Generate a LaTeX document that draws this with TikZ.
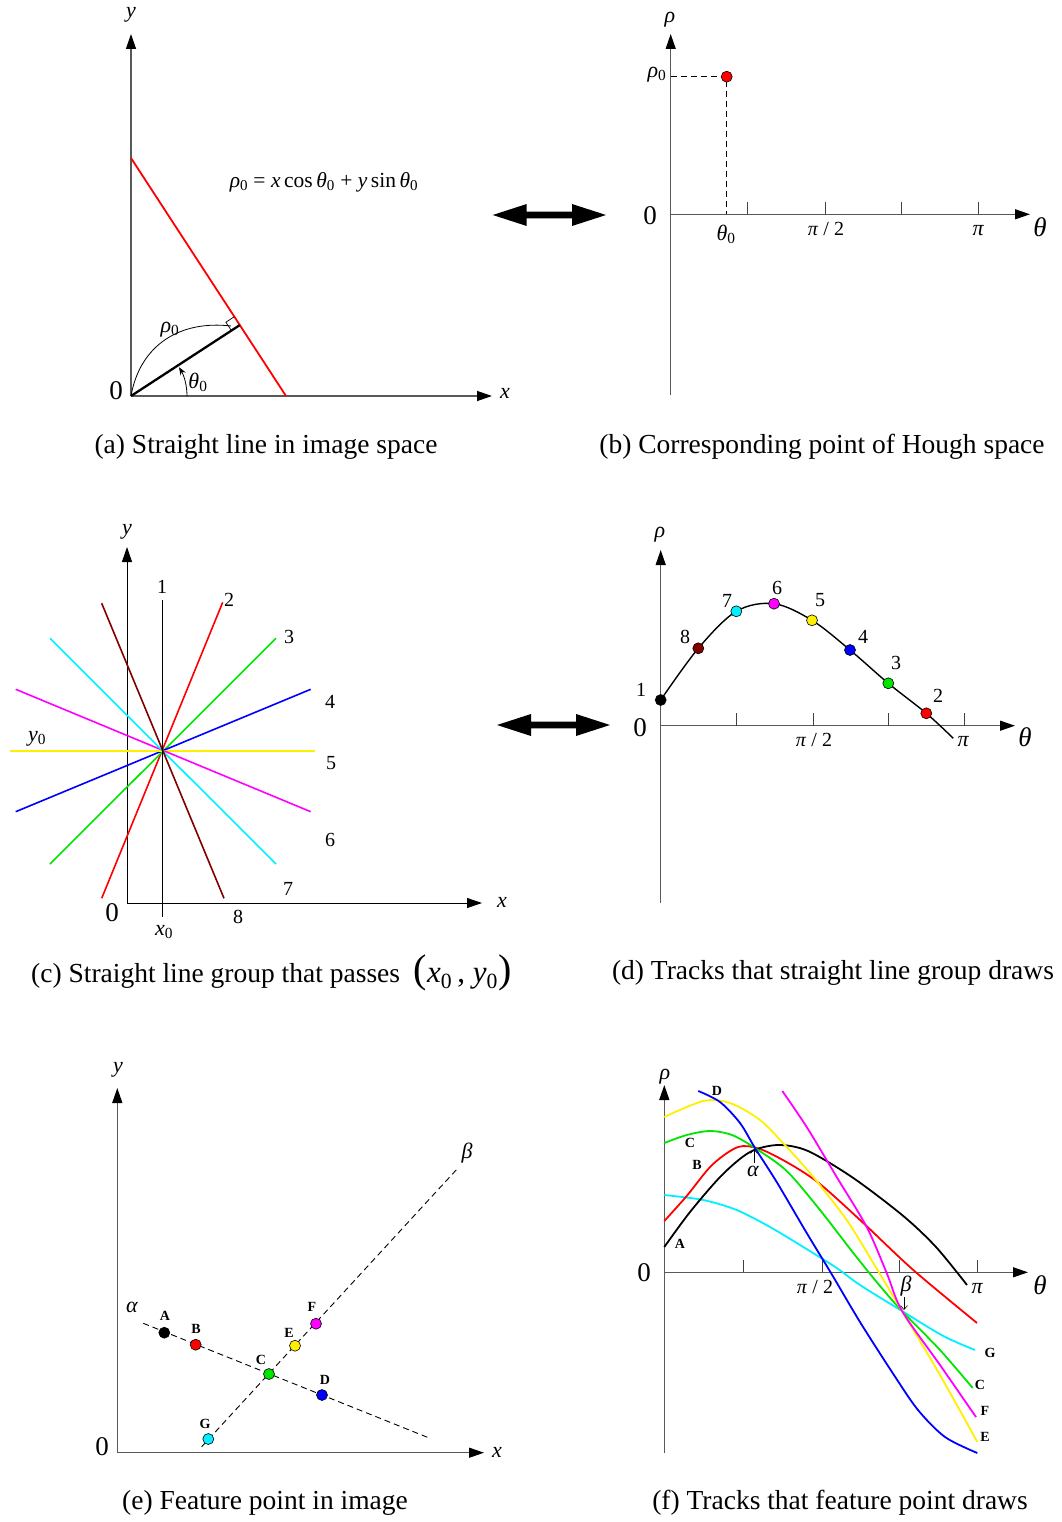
\documentclass[tikz,border=0pt]{standalone}
\usepackage{fontspec}
\setmainfont{Liberation Serif}
\usetikzlibrary{arrows.meta}
\definecolor{lgreen}{RGB}{0,230,0}
\definecolor{mcyan}{RGB}{0,240,255}
\definecolor{myellow}{RGB}{255,240,0}
\definecolor{mmag}{RGB}{255,0,255}
\definecolor{mmaroon}{RGB}{128,0,0}
\definecolor{mblue}{RGB}{0,0,255}
\definecolor{mred}{RGB}{255,0,0}
\newcommand\mysub[1]{\textsubscript{\upshape #1}}
\begin{document}
\begin{tikzpicture}[x=1pt,y=-1pt,
  gaxis/.style={line width=1.3pt, draw=black!65, -{Triangle[length=15pt,width=10pt,color=black]}},
  baxis/.style={line width=0.9pt, draw=black, -{Triangle[length=15pt,width=10pt]}},
  tick/.style={line width=1pt, draw=black!75},
  lbl/.style={font=\fontsize{22}{24}\selectfont\itshape, inner sep=0},
  big/.style={font=\fontsize{27}{29}\selectfont, inner sep=0},
  num/.style={font=\fontsize{20}{22}\selectfont, inner sep=0},
  captxt/.style={font=\fontsize{27.5}{30}\selectfont, inner sep=0},
  pl/.style={font=\fontsize{14}{16}\selectfont\bfseries, inner sep=0},
  dot/.style={circle, draw=black, line width=0.6pt, minimum size=11pt, inner sep=0},
  ray/.style={line width=1.6pt},
  trk/.style={line width=1.8pt},
  dsh/.style={line width=1.1pt, dash pattern=on 6pt off 4pt},
  dbl/.style={fill=black}
]
\useasboundingbox (0,0) rectangle (1061,1522);

%% ---------------- (a)
\coordinate (Oa) at (131,396);
\coordinate (Fa) at (239.8,325.1);
\draw[gaxis] (Oa) -- (131,34);
\draw[gaxis] (Oa) -- (492,396);
\draw[mred, line width=1.8pt] (131,158) -- (286,396);
\draw[line width=2.3pt] (Oa) -- (Fa);
\draw[line width=0.7pt] (231.4,330.6) -- (225.9,322.2) -- (234.3,316.7);
\draw[line width=0.8pt] (Oa) .. controls (140,345) and (180,320) .. (231,326);
\draw[line width=0.8pt, -{Stealth[length=8pt,width=6pt]}] (187,396) arc[start angle=0, end angle=-31, radius=56];
\node[lbl] (ya) at (131,15) {y};
\node[lbl] (xa) at (505,393) {x};
\node[big] (za) at (116,391) {0};
\node[lbl] (rha) at (170,330) {ρ\mysub{0}};
\node[lbl] (tha) at (198,382) {θ\mysub{0}};
\node[font=\fontsize{21.5}{23}\selectfont, inner sep=0] (fa) at (324,182) {\textit{ρ}\mysub{0} = \textit{x}\,cos\,\textit{θ}\mysub{0} + \textit{y}\,sin\,\textit{θ}\mysub{0}};
\node[captxt] (capa) at (266,447) {(a) Straight line in image space};

%% double arrow 1
\fill[dbl] (492.7,215) -- (526.7,204) -- (526.7,211.7) -- (572,211.7) -- (572,204) -- (606,215) -- (572,226) -- (572,218.3) -- (526.7,218.3) -- (526.7,226) -- cycle;

%% ---------------- (b)
\coordinate (Ob) at (670.7,214.3);
\draw[gaxis] (670.7,395) -- (670.7,34);
\draw[gaxis] (Ob) -- (1030,214.3);
\foreach \t in {747.7,825,901.7,978.3} \draw[tick] (\t,214.3) -- (\t,202);
\draw[dsh] (670.7,76.7) -- (726.7,76.7) -- (726.7,214.3);
\node[dot, fill=mred] (pb) at (726.7,76.7) {};
\node[lbl] (rb) at (670,20) {ρ};
\node[lbl] (r0b) at (657,75) {ρ\mysub{0}};
\node[big] (zb) at (650,216) {0};
\node[lbl] (t0b) at (726,234) {θ\mysub{0}};
\node[num] (p2b) at (826,229) {\textit{π} / 2};
\node[lbl] (pib) at (978,231) {π};
\node[big, font=\fontsize{27}{29}\selectfont\itshape] (thb) at (1040,227) {θ};
\node[captxt] (capb) at (822,447) {(b) Corresponding point of Hough space};

%% ---------------- (c)
\coordinate (Cc) at (162.3,751);
\draw[baxis] (127,903) -- (127,547);
\draw[baxis] (127,903) -- (482,903);
\draw[ray, mred] (101.7,898.3) -- (222.7,602.3);
\draw[ray, lgreen] (50,864) -- (276,638.3);
\draw[ray, mblue] (15.7,811.7) -- (310.7,689.3);
\draw[ray, myellow] (10,751) -- (315,751);
\draw[ray, mmag] (15.7,689.3) -- (310.7,811.7);
\draw[ray, mcyan] (50,638.3) -- (276,864);
\draw[ray, mmaroon] (101.7,603.3) -- (224,898.3);
\draw[ray, black] (162.3,600) -- (162.3,917);
\node[num] (c1) at (162,587) {1};
\node[num] (c2) at (229,600) {2};
\node[num] (c3) at (289,637) {3};
\node[num] (c4) at (330,702) {4};
\node[num] (c5) at (331,763) {5};
\node[num] (c6) at (330,840) {6};
\node[num] (c7) at (288,889) {7};
\node[num] (c8) at (238,917) {8};
\node[big] (zc) at (112,913) {0};
\node[lbl] (y0c) at (37,739) {y\mysub{0}};
\node[lbl] (x0c) at (164,932) {x\mysub{0}};
\node[lbl] (yc) at (127,532) {y};
\node[lbl] (xc) at (502,902) {x};
\node[captxt, anchor=west] (capc) at (31,973) {(c) Straight line group that passes \ {\fontsize{40}{40}\selectfont(}{\fontsize{31}{31}\selectfont\textit{x}\mysub{0}\,, \textit{y}\mysub{0}}{\fontsize{40}{40}\selectfont)}};

%% double arrow 2
\fill[dbl] (497,725) -- (531,714) -- (531,721.7) -- (576,721.7) -- (576,714) -- (610,725) -- (576,736) -- (576,728.3) -- (531,728.3) -- (531,736) -- cycle;

%% ---------------- (d)
\coordinate (Od) at (660.7,725.7);
\draw[gaxis] (660.7,903) -- (660.7,550);
\draw[gaxis] (Od) -- (1015,725.7);
\foreach \t in {736.7,813.3,888.3,964.3} \draw[tick] (\t,725.7) -- (\t,713);
\draw[line width=1.4pt] plot[smooth, tension=0.55] coordinates {(660.7,700) (698.3,648.3) (736.3,611.3) (774,603.7) (812,620.3) (850,650) (888.3,683.3) (926.3,713.3) (953.3,738.3)};
\node[dot, fill=black] (d1) at (660.7,700) {};
\node[dot, fill=mmaroon] (d8) at (698.3,648.3) {};
\node[dot, fill=mcyan] (d7) at (736.3,611.3) {};
\node[dot, fill=mmag] (d6) at (774,603.7) {};
\node[dot, fill=myellow] (d5) at (812,620.3) {};
\node[dot, fill=mblue] (d4) at (850,650) {};
\node[dot, fill=lgreen] (d3) at (888.3,683.3) {};
\node[dot, fill=mred] (d2) at (926.3,713.3) {};
\node[num] (n1) at (641,690) {1};
\node[num] (n8) at (685,637) {8};
\node[num] (n7) at (727,601) {7};
\node[num] (n6) at (777,588) {6};
\node[num] (n5) at (820,600) {5};
\node[num] (n4) at (863,637) {4};
\node[num] (n3) at (896,663) {3};
\node[num] (n2) at (938,696) {2};
\node[big] (zd) at (640,728) {0};
\node[num] (p2d) at (814,740) {\textit{π} / 2};
\node[lbl] (pid) at (963,742) {π};
\node[big, font=\fontsize{27}{29}\selectfont\itshape] (thd) at (1025,737) {θ};
\node[lbl] (rd) at (660,535) {ρ};
\node[captxt] (capd) at (833,973) {(d) Tracks that straight line group draws};

%% ---------------- (e)
\coordinate (Oe) at (117.3,1452.7);
\draw[gaxis] (Oe) -- (117.3,1088);
\draw[gaxis] (Oe) -- (484,1452.7);
\coordinate (al1) at (143.3,1323.3);
\coordinate (al2) at (430,1438.3);
\coordinate (be1) at (201.7,1446.7);
\coordinate (be2) at (458,1168);
\draw[dsh, line width=0.9pt] (al1) -- (al2);
\draw[dsh, line width=0.9pt] (be1) -- (be2);
\node[dot, fill=black] (eA) at (164.3,1332.7) {};
\node[dot, fill=mred] (eB) at (195.7,1344.7) {};
\node[dot, fill=lgreen] (eC) at (269,1374) {};
\node[dot, fill=mblue] (eD) at (322,1395) {};
\node[dot, fill=myellow] (eE) at (295,1345.7) {};
\node[dot, fill=mmag] (eF) at (316,1323.7) {};
\node[dot, fill=mcyan] (eG) at (208.3,1439) {};
\node[pl] (lA) at (165,1316) {A};
\node[pl] (lB) at (196,1329) {B};
\node[pl] (lC) at (261,1360) {C};
\node[pl] (lD) at (325,1380) {D};
\node[pl] (lE) at (289,1333) {E};
\node[pl] (lF) at (312,1307) {F};
\node[pl] (lG) at (205,1424) {G};
\node[lbl] (alE) at (132,1307) {α};
\node[lbl] (beE) at (467,1153) {β};
\node[lbl] (ye) at (118,1070) {y};
\node[lbl] (xe) at (497,1452) {x};
\node[big] (ze) at (102,1447) {0};
\node[captxt] (cape) at (265,1503) {(e) Feature point in image};

%% ---------------- (f)
\coordinate (Of) at (664.3,1272.3);
\draw[gaxis] (664.3,1453) -- (664.3,1085);
\draw[gaxis] (Of) -- (1028,1272.3);
\foreach \t in {743.3,822.3,899.3,977.7} \draw[tick] (\t,1272.3) -- (\t,1260);
% G cyan
\draw[trk, mcyan] plot[smooth] coordinates {(664.3,1195) (703.3,1200) (736.7,1210) (770,1227) (803.3,1247) (836.7,1268) (860,1285) (902,1311) (943.3,1336) (975,1350)};
% B red
\draw[trk, mred] plot[smooth] coordinates {(664.3,1221) (686.7,1196) (712,1165) (738,1147) (760,1149) (790,1164) (820,1184) (863.3,1223) (913.3,1270) (977,1323)};
% A black
\draw[trk, black] plot[smooth] coordinates {(664.3,1247) (690,1212) (722,1175) (750,1152) (778,1145) (808,1151) (853.3,1178) (903.3,1216) (936,1247) (967,1285)};
% C green
\draw[trk, lgreen] plot[smooth] coordinates {(664.3,1143) (686.7,1135) (710,1131) (732,1135) (755,1148) (786.7,1171) (820,1210) (853.3,1253) (880,1286) (902,1311) (940,1350) (972.7,1388)};
% E yellow
\draw[trk, myellow] plot[smooth] coordinates {(664.3,1117) (703.3,1101) (730,1103) (760,1120) (786.7,1147) (813.3,1177) (846.7,1220) (873.3,1263) (902,1311) (940,1375) (977.3,1442)};
% D blue
\draw[trk, mblue] plot[smooth] coordinates {(698.3,1091) (720,1102) (740,1123) (755,1148) (776.7,1182) (806.7,1233) (831,1273) (860,1322) (893.3,1374) (918,1410) (945,1437) (977.3,1453)};
% F magenta
\draw[trk, mmag] plot[smooth] coordinates {(782.3,1091) (806.7,1127) (836.7,1177) (866.7,1227) (886.7,1273) (902,1311) (940,1365) (976,1417)};
\node[pl] (fA) at (680,1244) {A};
\node[pl] (fB) at (697,1165) {B};
\node[pl] (fC) at (690,1143) {C};
\node[pl] (fD) at (717,1091) {D};
\node[pl] (fG) at (990,1353) {G};
\node[pl] (fC2) at (980,1385) {C};
\node[pl] (fF) at (985,1411) {F};
\node[pl] (fE) at (985,1437) {E};
\node[lbl] (alf) at (753,1171) {α};
\node[lbl] (bef) at (906,1286) {β};
\coordinate (alpt) at (754,1149);
\coordinate (bept) at (904,1310);
\draw[line width=0.6pt, -{Straight Barb[length=4pt,width=7pt]}] (754,1163) -- (alpt);
\draw[line width=0.6pt, -{Straight Barb[length=4pt,width=7pt]}] (904,1297) -- (bept);
\node[big] (zf) at (644,1273) {0};
\node[num] (p2f) at (815,1287) {\textit{π} / 2};
\node[lbl] (pif) at (977,1289) {π};
\node[big, font=\fontsize{27}{29}\selectfont\itshape] (thf) at (1040,1285) {θ};
\node[lbl] (rf) at (665,1077) {ρ};
\node[captxt] (capf) at (840,1503) {(f) Tracks that feature point draws};
\end{tikzpicture}
\end{document}
